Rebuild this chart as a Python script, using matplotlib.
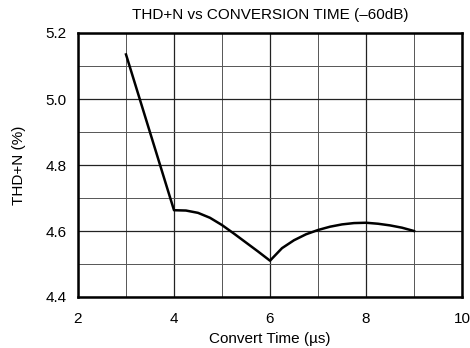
import matplotlib
matplotlib.use("Agg")
from matplotlib import pyplot as plt

plt.rcParams['font.family'] = ['Liberation Sans', 'DejaVu Sans']

# values
convert_time = [3.0, 4.0, 4.25, 4.5, 4.75, 5.0, 5.25, 5.5, 5.75, 6.0,
                6.25, 6.5, 6.75, 7.0, 7.25, 7.5, 7.75, 8.0, 8.25, 8.5, 8.75, 9.0]
thd_n = [5.135, 4.663, 4.662, 4.655, 4.64, 4.618, 4.592, 4.565, 4.538, 4.510,
         4.548, 4.572, 4.59, 4.603, 4.613, 4.62, 4.624, 4.625, 4.622, 4.617, 4.61, 4.60]

x_ticks = [2, 4, 6, 8, 10]
y_ticks = [4.4, 4.6, 4.8, 5.0, 5.2]

fig = plt.figure(figsize=(4.7, 3.48), dpi=100)
ax = fig.add_axes([78/470, 51/348, 384/470, 264/348])

ax.plot(convert_time, thd_n, color='black', lw=1.8)

ax.set_xlim(2, 10)
ax.set_ylim(4.4, 5.2)
ax.set_xticks(x_ticks)
ax.set_xticklabels([str(t) for t in x_ticks])
ax.set_yticks(y_ticks)
ax.set_yticklabels(['%.1f' % t for t in y_ticks])
ax.set_xticks([3, 5, 7, 9], minor=True)
ax.set_yticks([4.5, 4.7, 4.9, 5.1], minor=True)
ax.grid(which='major', color='#222222', lw=0.9)
ax.grid(which='minor', color='#555555', lw=0.7)
ax.tick_params(which='both', length=0, labelsize=11, colors='black')
ax.tick_params(axis='x', pad=11)
ax.tick_params(axis='y', pad=8)
for s in ax.spines.values():
    s.set_linewidth(1.8)

ax.set_title('THD+N vs CONVERSION TIME (\u201360dB)', fontsize=11, pad=10)
ax.set_xlabel('Convert Time (\u00b5s)', fontsize=11, labelpad=4)
ax.set_ylabel('THD+N (%)', fontsize=11, labelpad=14)

fig.savefig('out.png', dpi=100)
